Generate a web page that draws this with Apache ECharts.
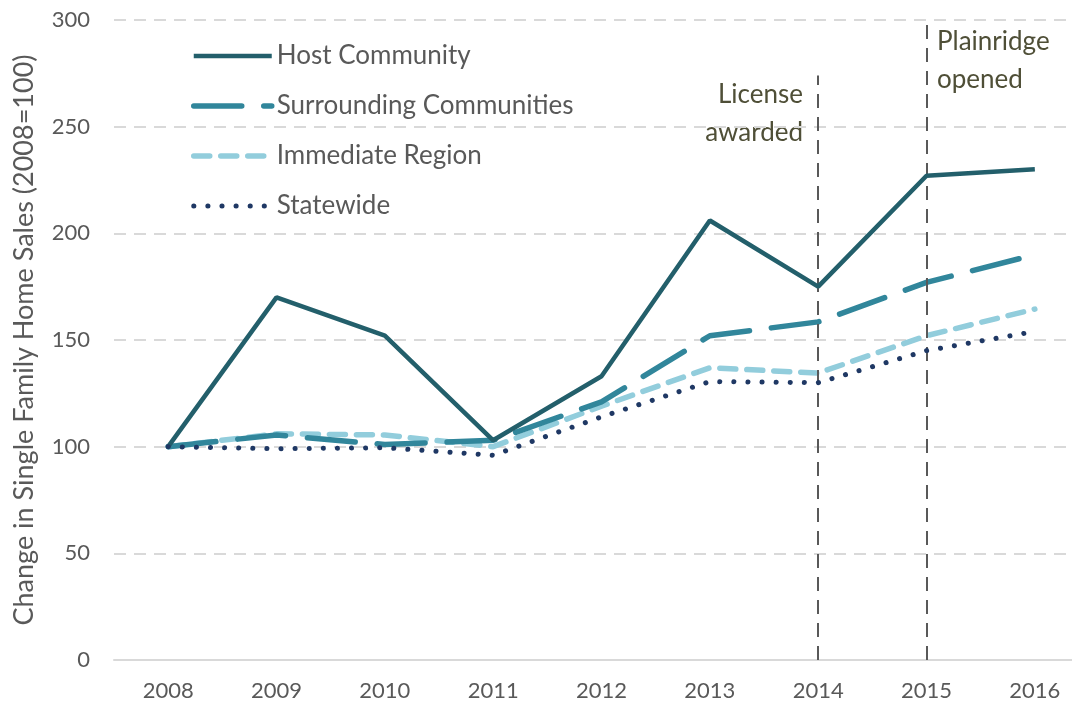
<!DOCTYPE html>
<html>
<head>
<meta charset="utf-8">
<script src="https://cdn.jsdelivr.net/npm/echarts@6/dist/echarts.min.js"></script>
<style>
  html, body { margin: 0; padding: 0; background: #fff; }
  #chart { width: 1072px; height: 705px; }
</style>
</head>
<body>
<div id="chart"></div>
<script>
// data
var years = ['2008', '2009', '2010', '2011', '2012', '2013', '2014', '2015', '2016'];
var host = [100, 170, 152, 103, 133, 206, 175, 227, 230];
var surrounding = [100, 105.5, 101, 103, 121, 152, 158.5, 177, 190];
var immediate = [100, 106, 105.5, 100, 119, 137, 134.5, 152, 164.5];
var statewide = [100, 99, 99.5, 96, 114, 130.5, 130, 145, 154];
var eventYears = ['2014', '2015'];
var eventTops = [274, 300];
var eventLabels = ['License\nawarded', 'Plainridge\nopened'];

var font = 'Lato, "Noto Sans", sans-serif';
var grey = '#595959';
var olive = '#4F4F37';

var colors = {
  host: '#235F6B',
  surrounding: '#31869B',
  immediate: '#92CDDC',
  statewide: '#1F3864'
};
var styles = {
  host: { color: colors.host, width: 4.5 },
  surrounding: { color: colors.surrounding, width: 5.5, type: [48, 22], cap: 'round' },
  immediate: { color: colors.immediate, width: 5.5, type: [16, 11], cap: 'round' },
  statewide: { color: colors.statewide, width: 5, type: [0.1, 14], cap: 'round' }
};

var chart = echarts.init(document.getElementById('chart'));

var eventLines = [];
for (var i = 0; i < eventYears.length; i++) {
  eventLines.push([{ coord: [eventYears[i], 0] }, { coord: [eventYears[i], eventTops[i]] }]);
}

// annotation text, one element per line
var graphics = [];
var lic = eventLabels[0].split('\n');
for (var j = 0; j < lic.length; j++) {
  graphics.push({
    type: 'text', x: 803, y: 95 + j * 38,
    style: { text: lic[j], fontFamily: font, fontSize: 26, fill: olive, align: 'right', verticalAlign: 'middle' }
  });
}
var pla = eventLabels[1].split('\n');
for (var k = 0; k < pla.length; k++) {
  graphics.push({
    type: 'text', x: 937, y: 42 + k * 38,
    style: { text: pla[k], fontFamily: font, fontSize: 26, fill: olive, align: 'left', verticalAlign: 'middle' }
  });
}

function legendItem(name, key) {
  return { name: name, itemStyle: { color: 'transparent', borderWidth: 0 }, lineStyle: styles[key] };
}

var option = {
  backgroundColor: '#fff',
  animation: false,
  grid: { left: 114, width: 975, top: 20, bottom: 45, outerBoundsMode: 'none', containLabel: false },
  legend: {
    orient: 'vertical',
    left: 186,
    top: 38,
    itemWidth: 78,
    itemHeight: 14,
    itemGap: 24,
    textStyle: { fontFamily: font, fontSize: 26, color: grey, lineHeight: 26 },
    data: [
      legendItem('Host Community', 'host'),
      legendItem('Surrounding Communities', 'surrounding'),
      legendItem('Immediate Region', 'immediate'),
      legendItem('Statewide', 'statewide')
    ]
  },
  xAxis: {
    type: 'category',
    data: years,
    boundaryGap: true,
    axisLine: { lineStyle: { color: '#D9D9D9', width: 2 } },
    axisTick: { show: false },
    axisLabel: { fontFamily: font, fontSize: 22, color: grey, margin: 20 }
  },
  yAxis: {
    type: 'value',
    min: 0,
    max: 300,
    interval: 50,
    name: 'Change in Single Family Home Sales (2008=100)',
    nameLocation: 'middle',
    nameGap: 76,
    nameTextStyle: { fontFamily: font, fontSize: 27, color: grey },
    axisLine: { show: false },
    axisTick: { show: false },
    axisLabel: { fontFamily: font, fontSize: 22, color: grey, margin: 24 },
    splitLine: { lineStyle: { color: '#D9D9D9', width: 2, type: [12, 8] } }
  },
  graphic: graphics,
  series: [
    {
      name: 'Host Community',
      type: 'line',
      data: host,
      symbol: 'none',
      itemStyle: { color: colors.host },
      lineStyle: styles.host,
      z: 5,
      markLine: {
        silent: true,
        symbol: 'none',
        label: { show: false },
        lineStyle: { color: '#595959', width: 2, type: [14, 9] },
        data: eventLines
      }
    },
    {
      name: 'Surrounding Communities',
      type: 'line',
      data: surrounding,
      symbol: 'none',
      itemStyle: { color: colors.surrounding },
      lineStyle: styles.surrounding,
      z: 4
    },
    {
      name: 'Immediate Region',
      type: 'line',
      data: immediate,
      symbol: 'none',
      itemStyle: { color: colors.immediate },
      lineStyle: styles.immediate,
      z: 3
    },
    {
      name: 'Statewide',
      type: 'line',
      data: statewide,
      symbol: 'none',
      itemStyle: { color: colors.statewide },
      lineStyle: styles.statewide,
      z: 6
    }
  ]
};

chart.setOption(option);
</script>
</body>
</html>
